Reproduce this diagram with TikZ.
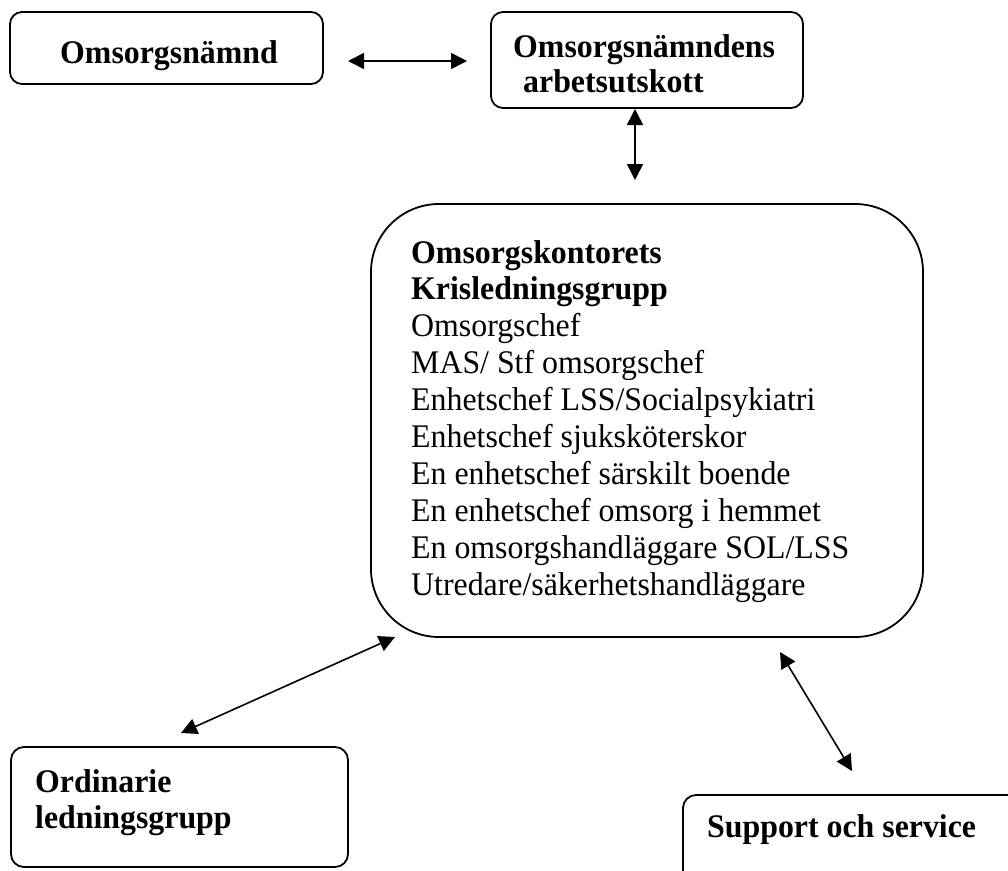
\documentclass[tikz,border=0pt]{standalone}
\usepackage{fontspec}
\setmainfont[FakeStretch=0.965]{Liberation Serif}
\usetikzlibrary{arrows.meta}
\tikzset{
  box/.style={draw=black, line width=1.8pt, rounded corners=#1, inner sep=0pt, fill=none},
  box/.default=12pt,
  txt/.style={anchor=base west, inner sep=0pt, font=\fontsize{33}{36.9}\selectfont},
  btxt/.style={txt, font=\fontsize{33}{36.9}\selectfont\bfseries},
  conn/.style={line width=1.6pt, {Triangle[length=16pt,width=16pt]}-{Triangle[length=16pt,width=16pt]}}
}
\begin{document}
\begin{tikzpicture}[x=1pt,y=-1pt]
\useasboundingbox (0,0) rectangle (1008,870);
\clip (0,0) rectangle (1008,870);
% boxes
\node[box, minimum width=313pt, minimum height=72pt] (nam) at (166.5,48) {};
\node[box, minimum width=312pt, minimum height=96pt] (au) at (647,60) {};
\node[box=68pt, minimum width=552pt, minimum height=433pt] (kris) at (647,420.5) {};
\node[box=13pt, minimum width=337pt, minimum height=120pt] (ord) at (179.5,807) {};
\node[box=13pt, minimum width=347pt, minimum height=105pt] (sup) at (856.5,847.5) {};
% texts
\node[btxt] (t1) at (60,63) {Omsorgsnämnd};
\node[btxt] (t2a) at (513,57) {Omsorgsnämndens};
\node[btxt] (t2b) at (523,92) {arbetsutskott};
\node[btxt] (k1) at (411,263) {Omsorgskontorets};
\node[btxt] (k2) at (411,299.9) {Krisledningsgrupp};
\node[txt] (k3) at (411,336.8) {Omsorgschef};
\node[txt] (k4) at (411,373.7) {MAS/ Stf omsorgschef};
\node[txt] (k5) at (411,410.6) {Enhetschef LSS/Socialpsykiatri};
\node[txt] (k6) at (411,447.5) {Enhetschef sjuksköterskor};
\node[txt] (k7) at (411,484.4) {En enhetschef särskilt boende};
\node[txt] (k8) at (411,521.3) {En enhetschef omsorg i hemmet};
\node[txt] (k9) at (411,558.2) {En omsorgshandläggare SOL/LSS};
\node[txt] (k10) at (411,595.1) {Utredare/säkerhetshandläggare};
\node[btxt] (o1) at (35,792) {Ordinarie};
\node[btxt] (o2) at (35,828) {ledningsgrupp};
\node[btxt] (s1) at (707,837) {Support och service};
% connector ends
\coordinate (h1) at (348,61);
\coordinate (h2) at (467,61);
\coordinate (v1) at (635,109);
\coordinate (v2) at (635,180);
\coordinate (d1) at (181,733);
\coordinate (d2) at (395,637);
\coordinate (e1) at (780,652);
\coordinate (e2) at (852,771);
\draw[conn] (h1) -- (h2);
\draw[conn] (v1) -- (v2);
\draw[conn] (d1) -- (d2);
\draw[conn] (e1) -- (e2);
\end{tikzpicture}
\end{document}
